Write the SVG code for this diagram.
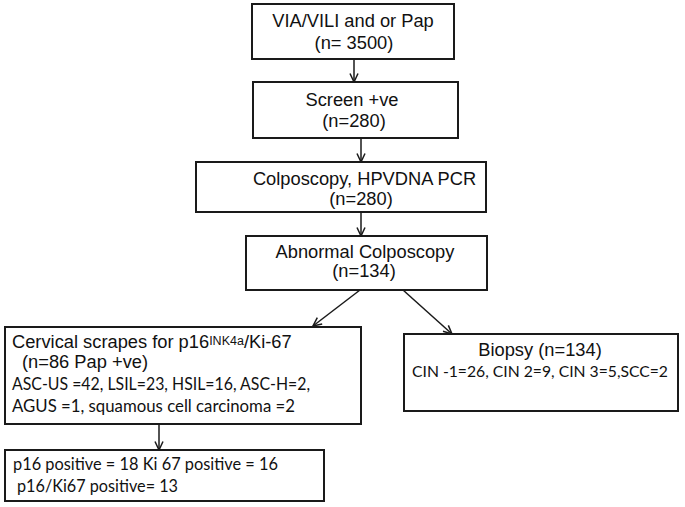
<svg xmlns="http://www.w3.org/2000/svg" width="685" height="507" viewBox="0 0 685 507">
<style>
.box{fill:#fff;stroke:#1a1a1a;stroke-width:2}
.a{font-family:"Liberation Sans",Arial,sans-serif;font-size:18.3px;fill:#111}
.c{font-family:Lato,"Open Sans",sans-serif;font-size:17px;fill:#111}
.cs{font-size:15.5px}
.m{text-anchor:middle}
.conn line{stroke:#1a1a1a;stroke-width:1.5;fill:none}
</style>
<defs>
<marker id="arr" viewBox="0 0 10 10" refX="9.5" refY="5" markerWidth="10" markerHeight="10" markerUnits="userSpaceOnUse" orient="auto">
<path d="M1,1 L9.5,5 L1,9" fill="none" stroke="#1a1a1a" stroke-width="1.5"/>
</marker>
</defs>
<rect width="685" height="507" fill="#fff"/>
<g id="n1">
<rect class="box" x="252" y="4" width="202" height="55"/>
<text class="a m" x="353" y="27">VIA/VILI and or Pap</text>
<text class="a m" x="354" y="49">(n= 3500)</text>
</g>
<g id="n2">
<rect class="box" x="253" y="82" width="205" height="56"/>
<text class="a m" x="352" y="106">Screen +ve</text>
<text class="a m" x="354" y="127">(n=280)</text>
</g>
<g id="n3">
<rect class="box" x="196" y="162" width="290" height="50"/>
<text class="a m" x="364.5" y="185">Colposcopy, HPVDNA PCR</text>
<text class="a m" x="361" y="205">(n=280)</text>
</g>
<g id="n4">
<rect class="box" x="246" y="236" width="241" height="54"/>
<text class="a m" x="365" y="258">Abnormal Colposcopy</text>
<text class="a m" x="364" y="277">(n=134)</text>
</g>
<g id="n5">
<rect class="box" x="5" y="327" width="356" height="97"/>
<text class="a" x="12" y="348">Cervical scrapes for p16<tspan style="font-size:12.5px" dy="-3">INK4a</tspan><tspan dy="3">/Ki-67</tspan></text>
<text class="a" x="22" y="368">(n=86 Pap +ve)</text>
<text class="c" x="12" y="390" textLength="298" lengthAdjust="spacingAndGlyphs">ASC-US =42, LSIL=23, HSIL=16, ASC-H=2,</text>
<text class="c" x="12" y="412" textLength="283" lengthAdjust="spacingAndGlyphs">AGUS =1, squamous cell carcinoma =2</text>
</g>
<g id="n6">
<rect class="box" x="404" y="334" width="274" height="77"/>
<text class="a m" x="540" y="356">Biopsy (n=134)</text>
<text class="c cs m" x="540" y="377" textLength="256" lengthAdjust="spacingAndGlyphs">CIN -1=26, CIN 2=9, CIN 3=5,SCC=2</text>
</g>
<g id="n7">
<rect class="box" x="5" y="450" width="319" height="51"/>
<text class="c" x="13" y="470" textLength="265" lengthAdjust="spacingAndGlyphs">p16 positive = 18 Ki 67 positive = 16</text>
<text class="c" x="17" y="492" textLength="161" lengthAdjust="spacingAndGlyphs">p16/Ki67 positive= 13</text>
</g>
<g id="connectors" class="conn">
<line x1="354" y1="59" x2="354" y2="82" marker-end="url(#arr)"/>
<line x1="361" y1="138" x2="361" y2="162" marker-end="url(#arr)"/>
<line x1="361" y1="212" x2="361" y2="236" marker-end="url(#arr)"/>
<line x1="360" y1="290" x2="313" y2="326" marker-end="url(#arr)"/>
<line x1="403" y1="290" x2="452" y2="334" marker-end="url(#arr)"/>
<line x1="159" y1="424" x2="159" y2="450" marker-end="url(#arr)"/>
</g>
</svg>
